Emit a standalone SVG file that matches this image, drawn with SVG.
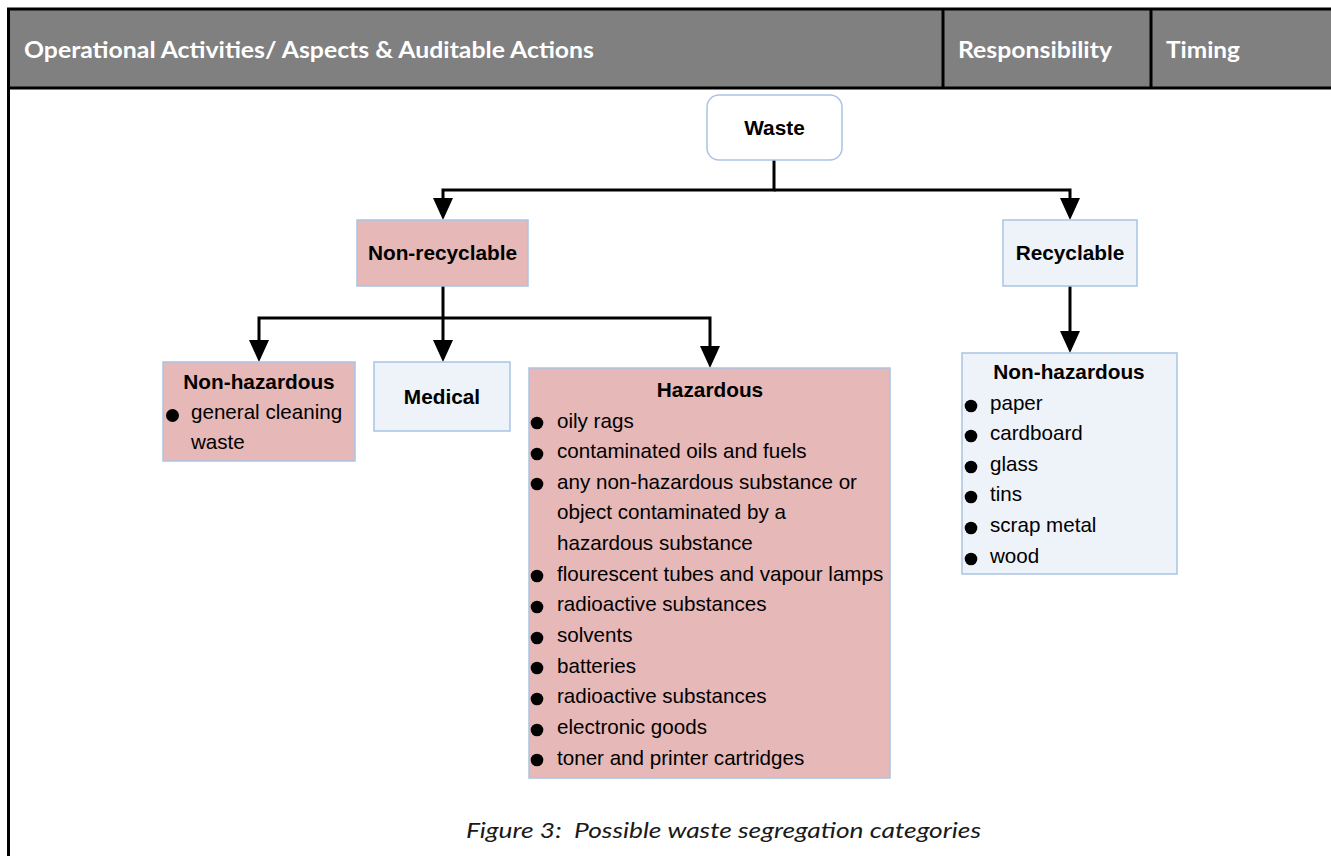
<svg xmlns="http://www.w3.org/2000/svg" width="1331" height="856" viewBox="0 0 1331 856">
<style>
.hdr{font-family:Lato,"Open Sans",sans-serif;font-weight:bold;font-size:22px;fill:#ffffff}
.t{font-family:"Liberation Sans",Arial,sans-serif;font-size:20.6px;fill:#000}
.b{font-family:"Liberation Sans",Arial,sans-serif;font-size:20.8px;font-weight:bold;fill:#000}
.pink{fill:#e6b8b7;stroke:#a9c4e4;stroke-width:1.5}
.light{fill:#eef2f9;stroke:#a9c4e4;stroke-width:1.5}
.conn{fill:none;stroke:#000;stroke-width:3}
.cap{font-family:Lato,"Open Sans",sans-serif;font-style:italic;font-size:22px;fill:#1a1a1a}
</style>
<defs>
<marker id="ah" markerWidth="22" markerHeight="20" refX="0" refY="10" orient="auto" markerUnits="userSpaceOnUse" viewBox="0 0 22 20">
<path d="M0,0 L22,10 L0,20 Z" fill="#000"/>
</marker>
</defs>
<rect width="1331" height="856" fill="#fff"/>
<g id="header">
<rect x="8.5" y="9" width="1330" height="79" fill="#808080" stroke="#000" stroke-width="3"/>
<line x1="943" y1="9" x2="943" y2="88" stroke="#000" stroke-width="3"/>
<line x1="1151" y1="9" x2="1151" y2="88" stroke="#000" stroke-width="3"/>
<text class="hdr" x="24" y="57.5" textLength="570" lengthAdjust="spacingAndGlyphs">Operational Activities/ Aspects &amp; Auditable Actions</text>
<text class="hdr" x="958" y="57.5" textLength="154" lengthAdjust="spacingAndGlyphs">Responsibility</text>
<text class="hdr" x="1166" y="57.5" textLength="74" lengthAdjust="spacingAndGlyphs">Timing</text>
</g>
<line x1="8.5" y1="88" x2="8.5" y2="856" stroke="#000" stroke-width="3"/>
<g id="connectors">
<polyline class="conn" points="774,160 774,190 443,190 443,198" marker-end="url(#ah)"/>
<polyline class="conn" points="774,190 1070,190 1070,198" marker-end="url(#ah)"/>
<polyline class="conn" points="443,286 443,340" marker-end="url(#ah)"/>
<polyline class="conn" points="443,318 259,318 259,340" marker-end="url(#ah)"/>
<polyline class="conn" points="443,318 710,318 710,346" marker-end="url(#ah)"/>
<polyline class="conn" points="1070,286 1070,331" marker-end="url(#ah)"/>
</g>
<g id="waste">
<rect x="707" y="95" width="135" height="65" rx="12" fill="#fff" stroke="#a9c4e4" stroke-width="1.5"/>
<text class="b" x="774.5" y="134.5" text-anchor="middle">Waste</text>
</g>
<g id="nonrecyclable">
<rect class="pink" x="357" y="220" width="171" height="66"/>
<text class="b" x="442.5" y="259.5" text-anchor="middle">Non-recyclable</text>
</g>
<g id="recyclable">
<rect class="light" x="1003" y="220" width="134" height="66"/>
<text class="b" x="1070" y="259.5" text-anchor="middle">Recyclable</text>
</g>
<g id="nonhaz-left">
<rect class="pink" x="163" y="362" width="192" height="99"/>
<text class="b" x="259" y="388.5" text-anchor="middle">Non-hazardous</text>
<circle cx="172.5" cy="415.5" r="6.5"/>
<text class="t" x="191" y="418.5">general cleaning</text>
<text class="t" x="191" y="448.5">waste</text>
</g>
<g id="medical">
<rect class="light" x="374" y="362" width="136" height="69"/>
<text class="b" x="442" y="403.5" text-anchor="middle">Medical</text>
</g>
<g id="hazardous">
<rect class="pink" x="529" y="368" width="361" height="410"/>
<text class="b" x="710" y="396.5" text-anchor="middle">Hazardous</text>
<g>
<circle cx="537" cy="423" r="6.3"/><text class="t" x="557" y="427.5">oily rags</text>
<circle cx="537" cy="454" r="6.3"/><text class="t" x="557" y="458">contaminated oils and fuels</text>
<circle cx="537" cy="484" r="6.3"/><text class="t" x="557" y="488.5">any non-hazardous substance or</text>
<text class="t" x="557" y="519">object contaminated by a</text>
<text class="t" x="557" y="549.5">hazardous substance</text>
<circle cx="537" cy="576" r="6.3"/><text class="t" x="557" y="580.5">flourescent tubes and vapour lamps</text>
<circle cx="537" cy="607" r="6.3"/><text class="t" x="557" y="611">radioactive substances</text>
<circle cx="537" cy="638" r="6.3"/><text class="t" x="557" y="641.5">solvents</text>
<circle cx="537" cy="668" r="6.3"/><text class="t" x="557" y="672.5">batteries</text>
<circle cx="537" cy="699" r="6.3"/><text class="t" x="557" y="703">radioactive substances</text>
<circle cx="537" cy="730" r="6.3"/><text class="t" x="557" y="734">electronic goods</text>
<circle cx="537" cy="760" r="6.3"/><text class="t" x="557" y="764.5">toner and printer cartridges</text>
</g>
</g>
<g id="nonhaz-right">
<rect class="light" x="962" y="353" width="215" height="221"/>
<text class="b" x="1069" y="378.5" text-anchor="middle">Non-hazardous</text>
<circle cx="971" cy="406" r="6.3"/><text class="t" x="990" y="409.5">paper</text>
<circle cx="971" cy="436" r="6.3"/><text class="t" x="990" y="439.5">cardboard</text>
<circle cx="971" cy="467" r="6.3"/><text class="t" x="990" y="470.5">glass</text>
<circle cx="971" cy="497" r="6.3"/><text class="t" x="990" y="500.5">tins</text>
<circle cx="971" cy="528" r="6.3"/><text class="t" x="990" y="531.5">scrap metal</text>
<circle cx="971" cy="559" r="6.3"/><text class="t" x="990" y="562.5">wood</text>
</g>
<text class="cap" x="466" y="838" xml:space="preserve" textLength="515" lengthAdjust="spacingAndGlyphs">Figure 3:  Possible waste segregation categories</text>
</svg>
